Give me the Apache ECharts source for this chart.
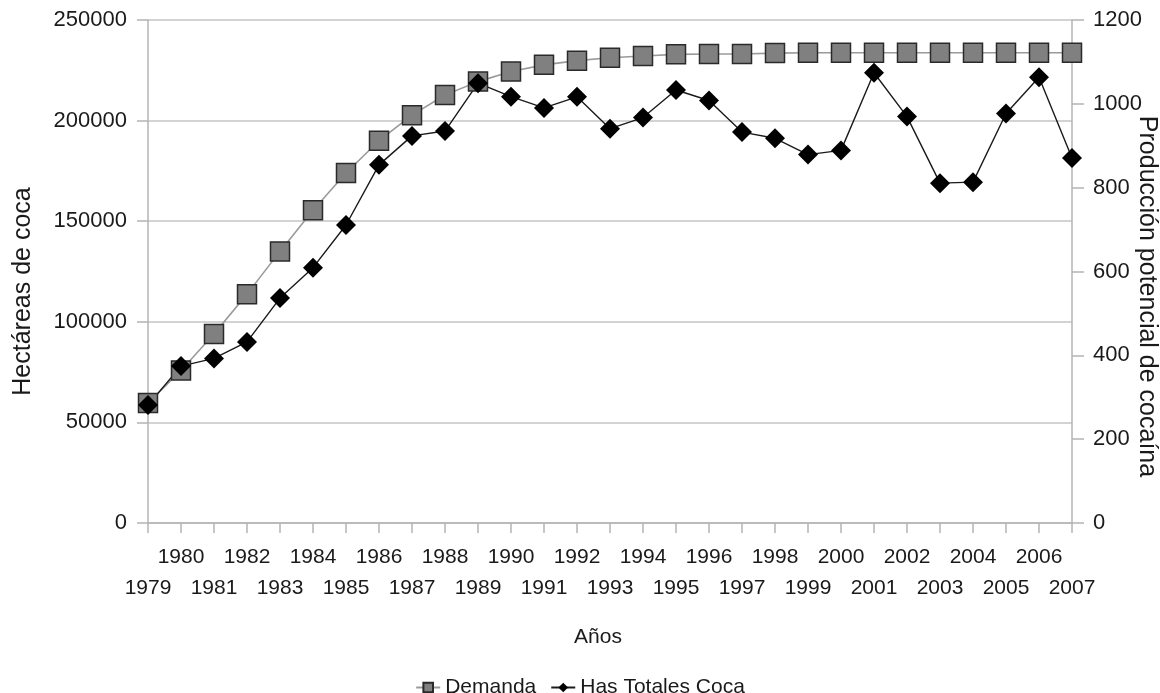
<!DOCTYPE html>
<html>
<head>
<meta charset="utf-8">
<script src="https://cdn.jsdelivr.net/npm/echarts@6/dist/echarts.min.js"></script>
<style>
html,body{margin:0;padding:0;background:#fff;}
#chart{width:1160px;height:693px;}
</style>
</head>
<body>
<div id="chart"></div>
<script>
const years = ['1979','1980','1981','1982','1983','1984','1985','1986','1987','1988','1989','1990','1991','1992','1993','1994','1995','1996','1997','1998','1999','2000','2001','2002','2003','2004','2005','2006','2007'];
const demanda = [286,364,451,546,648,746,835,912,973,1021,1053,1077,1093,1103,1110,1114,1118,1119,1119,1121,1122,1122,1122,1122,1122,1122,1122,1122,1122];
const hasTotalesCoca = [58600,78000,81800,90000,111800,126900,148100,178000,192400,194800,218600,211900,206300,211800,196000,201500,215200,210000,194300,191200,183100,185200,223800,202000,168900,169400,203500,221500,181400];
const leftTicks = [0,50000,100000,150000,200000,250000];
const rightTicks = [0,200,400,600,800,1000,1200];

const FONT = 'Liberation Sans, Arial, sans-serif';
const chart = echarts.init(document.getElementById('chart'), null, {renderer:'canvas'});
const axisGray = '#b4b4b4';
const plain = function(v){ return String(v); };
chart.setOption({
  animation:false,
  backgroundColor:'#ffffff',
  textStyle:{fontFamily:FONT, color:'#1a1a1a'},
  grid:{left:148, right:88, top:20, bottom:170, containLabel:false, outerBoundsMode:'none'},
  legend:{
    data:['Demanda','Has Totales Coca'],
    left:'center', top:672,
    itemWidth:24, itemHeight:12, itemGap:14,
    textStyle:{fontFamily:FONT, fontSize:21, color:'#1a1a1a'}
  },
  xAxis:{
    type:'category', data:years, boundaryGap:false,
    name:'Años', nameLocation:'middle', nameGap:104,
    nameTextStyle:{fontFamily:FONT, fontSize:21, color:'#1a1a1a', padding:[0,24,0,0]},
    axisLine:{show:true, lineStyle:{color:axisGray, width:1.5}},
    axisTick:{show:true, length:10, alignWithLabel:true, interval:0, lineStyle:{color:axisGray, width:1.5}},
    axisLabel:{
      interval:0, margin:19, lineHeight:31, fontSize:21, color:'#1a1a1a', fontFamily:FONT,
      formatter:function(v, i){ return i % 2 === 0 ? '\n' + v : v; }
    },
    splitLine:{show:false}
  },
  yAxis:[
    {
      type:'value', min:leftTicks[0], max:leftTicks[leftTicks.length-1], interval:50000,
      name:'Hectáreas de coca', nameLocation:'middle', nameGap:112, nameRotate:90,
      nameTextStyle:{fontFamily:FONT, fontSize:25, color:'#1a1a1a', padding:[0,40,0,0]},
      axisLine:{show:true, lineStyle:{color:axisGray, width:1.5}},
      axisTick:{show:true, length:11, lineStyle:{color:axisGray, width:1.5}},
      axisLabel:{margin:21, fontSize:22, color:'#1a1a1a', fontFamily:FONT, formatter:plain},
      splitLine:{show:true, lineStyle:{color:'#c4c4c4', width:1.5}}
    },
    {
      type:'value', min:rightTicks[0], max:rightTicks[rightTicks.length-1], interval:200,
      name:'Producción potencial de cocaína', nameLocation:'middle', nameGap:62, nameRotate:-90,
      nameMoveOverlap:false,
      nameTextStyle:{fontFamily:FONT, fontSize:25, color:'#1a1a1a', padding:[0,0,0,50]},
      axisLine:{show:true, lineStyle:{color:axisGray, width:1.5}},
      axisTick:{show:true, length:12, lineStyle:{color:axisGray, width:1.5}},
      axisLabel:{margin:21, fontSize:22, color:'#1a1a1a', fontFamily:FONT, formatter:plain},
      splitLine:{show:false}
    }
  ],
  series:[
    {
      name:'Demanda', type:'line', yAxisIndex:1, data:demanda,
      symbol:'rect', symbolSize:19, showAllSymbol:true,
      lineStyle:{color:'#9a9a9a', width:1.6},
      itemStyle:{color:'#808080', borderColor:'#2a2a2a', borderWidth:1.5},
      emphasis:{disabled:true}
    },
    {
      name:'Has Totales Coca', type:'line', yAxisIndex:0, data:hasTotalesCoca,
      symbol:'diamond', symbolSize:20, showAllSymbol:true,
      lineStyle:{color:'#1a1a1a', width:1.4},
      itemStyle:{color:'#000000', borderColor:'#000000', borderWidth:0},
      emphasis:{disabled:true}
    }
  ]
});
</script>
</body>
</html>
